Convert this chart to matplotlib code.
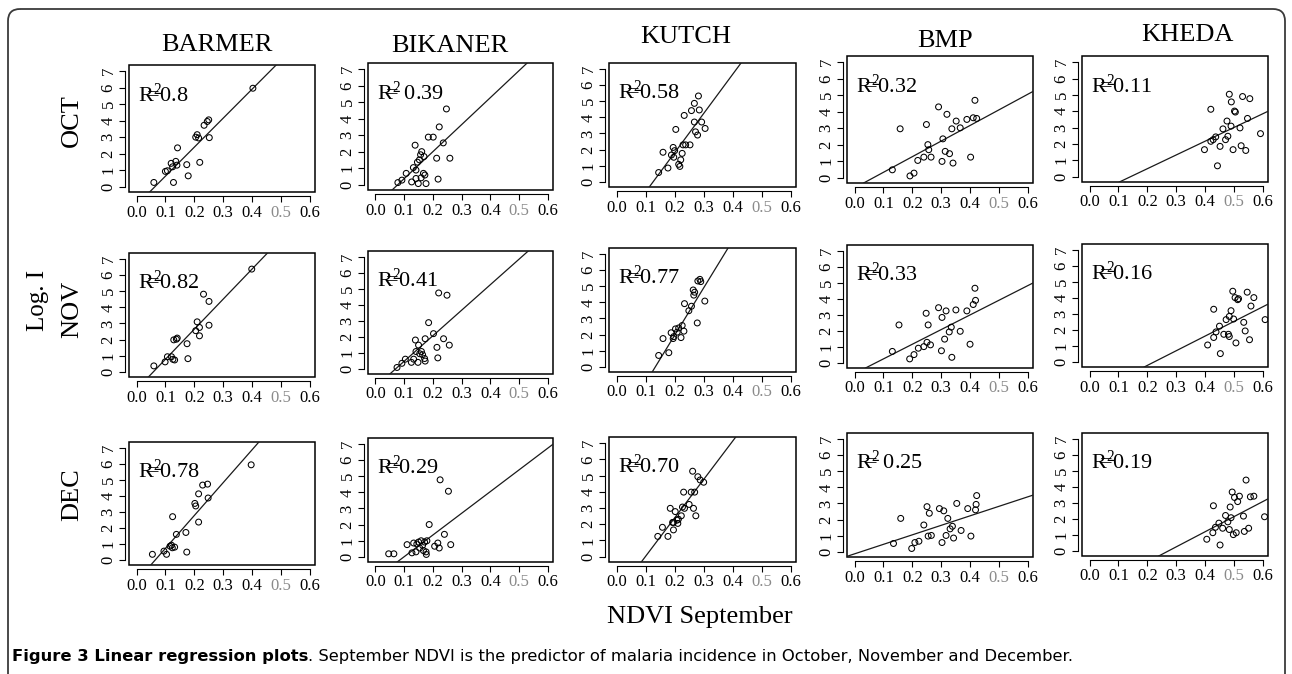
import matplotlib.pyplot as plt
import numpy as np
from matplotlib.patches import FancyBboxPatch, Rectangle

W, H = 1292, 674

districts = ['BARMER', 'BIKANER', 'KUTCH', 'BMP', 'KHEDA']
months = ['OCT', 'NOV', 'DEC']
r2_text = [['0.8', ' 0.39', '0.58', '0.32', '0.11'],
           ['0.82', '0.41', '0.77', '0.33', '0.16'],
           ['0.78', '0.29', '0.70', ' 0.25', '0.19']]

# regression lines (slope, intercept)
fit_slope = [[17.6, 16.4, 24.4, 9.48, 8.41],
             [18.7, 16.0, 29.5, 9.19, 9.19],
             [20.6, 13.5, 23.7, 5.91, 9.47]]
fit_intercept = [[-1.13, -1.28, -3.08, -0.63, -1.20],
                 [-1.10, -1.13, -3.95, -0.68, -2.07],
                 [-1.35, -1.35, -2.35, -0.135, -2.60]]

barmer_oct_x = [0.06, 0.10, 0.107, 0.12, 0.125, 0.128, 0.136, 0.14, 0.142, 0.174, 0.179, 0.205, 0.21, 0.215, 0.219, 0.234, 0.245, 0.25, 0.252, 0.403]
barmer_oct_y = [0.25, 0.92, 0.96, 1.41, 1.2, 0.25, 1.53, 1.3, 2.35, 1.33, 0.65, 3.0, 3.15, 2.95, 1.47, 3.72, 3.95, 4.05, 2.97, 5.97]
bikaner_oct_x = [0.078, 0.092, 0.107, 0.132, 0.126, 0.141, 0.149, 0.138, 0.146, 0.153, 0.157, 0.161, 0.169, 0.159, 0.167, 0.172, 0.176, 0.184, 0.201, 0.213, 0.218, 0.222, 0.236, 0.247, 0.259, 0.141]
bikaner_oct_y = [0.12, 0.27, 0.68, 1.03, 0.16, 0.37, 0.06, 2.39, 1.36, 1.5, 1.81, 2.0, 1.7, 0.41, 0.68, 0.58, 0.06, 2.88, 2.88, 1.6, 0.33, 3.5, 2.53, 4.59, 1.6, 0.88]
kutch_oct_x = [0.145, 0.160, 0.177, 0.189, 0.195, 0.197, 0.200, 0.204, 0.214, 0.218, 0.221, 0.226, 0.229, 0.238, 0.233, 0.253, 0.258, 0.268, 0.268, 0.272, 0.279, 0.282, 0.285, 0.293, 0.305]
kutch_oct_y = [0.57, 1.83, 0.85, 1.66, 2.13, 1.52, 1.93, 3.25, 1.08, 0.95, 1.36, 1.76, 2.29, 2.29, 4.12, 2.29, 4.42, 4.87, 3.71, 3.10, 2.90, 5.33, 4.46, 3.71, 3.31]
bmp_oct_x = [0.131, 0.158, 0.192, 0.206, 0.219, 0.240, 0.249, 0.254, 0.257, 0.265, 0.291, 0.303, 0.306, 0.314, 0.320, 0.329, 0.337, 0.341, 0.352, 0.366, 0.389, 0.402, 0.411, 0.417, 0.423]
bmp_oct_y = [0.47, 2.96, 0.10, 0.27, 1.04, 1.24, 3.22, 2.0, 1.69, 1.24, 4.29, 0.98, 2.35, 1.59, 3.84, 1.45, 2.96, 0.88, 3.43, 3.02, 3.53, 1.24, 3.63, 4.69, 3.59]
kheda_oct_x = [0.398, 0.420, 0.420, 0.428, 0.437, 0.443, 0.452, 0.462, 0.471, 0.476, 0.479, 0.484, 0.490, 0.491, 0.497, 0.502, 0.505, 0.521, 0.525, 0.530, 0.541, 0.547, 0.555, 0.592]
kheda_oct_y = [1.65, 4.12, 2.16, 2.26, 2.43, 0.66, 1.85, 2.92, 2.26, 3.40, 2.47, 5.04, 3.09, 4.57, 1.65, 4.01, 3.95, 2.98, 1.89, 4.90, 1.60, 3.56, 4.77, 2.63]

barmer_nov_x = [0.060, 0.099, 0.107, 0.121, 0.126, 0.132, 0.129, 0.138, 0.141, 0.175, 0.178, 0.205, 0.210, 0.218, 0.218, 0.232, 0.251, 0.251, 0.399]
barmer_nov_y = [0.36, 0.61, 0.93, 0.93, 0.77, 0.73, 1.98, 2.02, 2.09, 1.74, 0.81, 2.55, 3.10, 2.75, 2.23, 4.82, 4.37, 2.89, 6.38]
bikaner_nov_x = [0.075, 0.092, 0.104, 0.125, 0.133, 0.139, 0.141, 0.148, 0.150, 0.154, 0.160, 0.164, 0.171, 0.173, 0.173, 0.185, 0.202, 0.214, 0.217, 0.220, 0.237, 0.249, 0.257]
bikaner_nov_y = [0.08, 0.34, 0.60, 0.40, 0.60, 1.80, 1.08, 0.40, 1.48, 0.94, 1.08, 0.88, 0.64, 0.48, 1.88, 2.89, 2.20, 1.34, 0.68, 4.75, 1.88, 4.61, 1.48]
kutch_nov_x = [0.145, 0.160, 0.180, 0.188, 0.195, 0.197, 0.203, 0.209, 0.214, 0.222, 0.226, 0.232, 0.234, 0.249, 0.258, 0.264, 0.269, 0.266, 0.278, 0.280, 0.287, 0.290, 0.304]
kutch_nov_y = [0.70, 1.75, 0.87, 2.11, 1.75, 1.87, 2.35, 2.15, 2.41, 1.81, 2.56, 2.21, 3.92, 3.48, 3.76, 4.77, 4.63, 4.45, 2.72, 5.33, 5.43, 5.29, 4.08]
bmp_nov_x = [0.131, 0.154, 0.191, 0.206, 0.221, 0.240, 0.248, 0.251, 0.255, 0.263, 0.291, 0.301, 0.303, 0.312, 0.317, 0.328, 0.335, 0.337, 0.351, 0.366, 0.389, 0.400, 0.411, 0.419, 0.417]
bmp_nov_y = [0.71, 2.37, 0.24, 0.51, 0.91, 1.01, 3.10, 1.28, 2.37, 1.12, 3.45, 0.75, 2.84, 1.48, 3.25, 1.93, 2.23, 0.34, 3.31, 1.97, 3.25, 1.16, 3.65, 3.91, 4.67]
kheda_nov_x = [0.409, 0.430, 0.430, 0.438, 0.450, 0.453, 0.465, 0.473, 0.481, 0.484, 0.484, 0.490, 0.496, 0.499, 0.504, 0.507, 0.513, 0.516, 0.534, 0.539, 0.546, 0.554, 0.559, 0.569, 0.608]
kheda_nov_y = [1.05, 3.29, 1.52, 1.87, 2.23, 0.51, 1.72, 2.64, 1.72, 1.58, 2.84, 3.20, 4.42, 2.68, 4.02, 1.18, 3.89, 3.95, 2.47, 1.93, 4.36, 1.38, 3.49, 4.02, 2.64]

barmer_dec_x = [0.055, 0.095, 0.104, 0.116, 0.121, 0.124, 0.132, 0.125, 0.138, 0.171, 0.174, 0.202, 0.205, 0.215, 0.215, 0.229, 0.246, 0.248, 0.397]
barmer_dec_y = [0.34, 0.54, 0.34, 0.85, 0.91, 0.75, 0.79, 2.70, 1.59, 1.71, 0.48, 3.53, 3.37, 4.13, 2.36, 4.68, 4.74, 3.87, 5.95]
bikaner_dec_x = [0.046, 0.064, 0.110, 0.127, 0.133, 0.141, 0.144, 0.150, 0.154, 0.159, 0.164, 0.167, 0.171, 0.177, 0.176, 0.179, 0.187, 0.206, 0.217, 0.222, 0.225, 0.240, 0.254, 0.262]
bikaner_dec_y = [0.18, 0.18, 0.75, 0.24, 0.85, 0.30, 0.79, 0.91, 0.54, 0.99, 0.71, 0.38, 0.91, 0.14, 0.30, 0.99, 2.0, 0.65, 0.85, 0.54, 4.78, 1.39, 4.07, 0.75]
kutch_dec_x = [0.142, 0.158, 0.177, 0.185, 0.193, 0.196, 0.196, 0.202, 0.208, 0.213, 0.211, 0.223, 0.227, 0.231, 0.234, 0.250, 0.257, 0.262, 0.265, 0.269, 0.273, 0.280, 0.288, 0.300]
kutch_dec_y = [1.25, 1.81, 1.25, 2.98, 2.11, 2.11, 1.65, 2.78, 2.25, 2.31, 2.05, 2.52, 3.06, 3.98, 2.98, 3.22, 3.98, 5.27, 2.98, 3.98, 2.52, 4.93, 4.73, 4.59]
bmp_dec_x = [0.135, 0.160, 0.198, 0.209, 0.223, 0.240, 0.251, 0.255, 0.259, 0.266, 0.294, 0.303, 0.309, 0.317, 0.323, 0.331, 0.339, 0.343, 0.354, 0.369, 0.392, 0.403, 0.419, 0.421, 0.423]
bmp_dec_y = [0.51, 2.07, 0.20, 0.57, 0.65, 1.66, 2.80, 0.97, 2.39, 1.01, 2.68, 0.57, 2.54, 1.01, 2.07, 1.42, 1.58, 0.85, 3.00, 1.32, 2.68, 0.97, 2.60, 2.94, 3.49]
kheda_dec_x = [0.406, 0.427, 0.429, 0.436, 0.448, 0.452, 0.461, 0.471, 0.479, 0.484, 0.487, 0.490, 0.494, 0.498, 0.502, 0.508, 0.513, 0.519, 0.533, 0.536, 0.542, 0.551, 0.557, 0.569, 0.606]
kheda_dec_y = [0.72, 1.13, 2.82, 1.47, 1.73, 0.36, 1.41, 2.21, 1.81, 1.33, 2.74, 2.07, 3.68, 1.01, 3.34, 1.13, 3.08, 3.42, 2.17, 1.21, 4.43, 1.41, 3.38, 3.42, 2.13]

panel_data = [
    [(barmer_oct_x, barmer_oct_y), (bikaner_oct_x, bikaner_oct_y), (kutch_oct_x, kutch_oct_y),
     (bmp_oct_x, bmp_oct_y), (kheda_oct_x, kheda_oct_y)],
    [(barmer_nov_x, barmer_nov_y), (bikaner_nov_x, bikaner_nov_y), (kutch_nov_x, kutch_nov_y),
     (bmp_nov_x, bmp_nov_y), (kheda_nov_x, kheda_nov_y)],
    [(barmer_dec_x, barmer_dec_y), (bikaner_dec_x, bikaner_dec_y), (kutch_dec_x, kutch_dec_y),
     (bmp_dec_x, bmp_dec_y), (kheda_dec_x, kheda_dec_y)],
]

# panel boxes in pixels
col_left = [129, 368, 609, 847, 1082]
col_right = [315, 553, 796, 1033, 1268]
box_top = [[65, 63, 63, 56, 56], [253, 251, 248, 245, 244], [442, 438, 437, 433, 433]]
box_bottom = [[192, 190, 187, 183, 182], [377, 374, 372, 368, 367], [565, 562, 562, 557, 556]]
title_pos = [(217, 45), (450, 46), (686, 37), (945, 41), (1187, 35)]
month_pos = [(72, 121), (72, 309), (72, 495)]

plt.rcParams['font.family'] = ['Liberation Serif', 'DejaVu Serif']
plt.rcParams['mathtext.fontset'] = 'custom'
plt.rcParams['mathtext.rm'] = 'Liberation Serif'
plt.rcParams['mathtext.it'] = 'Liberation Serif'

fig = plt.figure(figsize=(W / 100, H / 100), dpi=100)

# overlay in pixel coordinates for frame and labels
ov = fig.add_axes([0, 0, 1, 1])
ov.set_xlim(0, W)
ov.set_ylim(H, 0)
ov.axis('off')
ov.add_patch(FancyBboxPatch((8, 9), 1277, 720, boxstyle='round,pad=0,rounding_size=12',
                            fill=False, lw=1.3, ec='#3a3a3a'))

for j, name in enumerate(districts):
    ov.text(title_pos[j][0], title_pos[j][1], name, ha='center', va='center', fontsize=19)
for i, m in enumerate(months):
    ov.text(month_pos[i][0], month_pos[i][1], m, rotation=90, ha='center', va='center', fontsize=19)
ov.text(38, 300, 'Log. I', rotation=90, ha='center', va='center', fontsize=18)
ov.text(700, 617, 'NDVI September', ha='center', va='center', fontsize=19)

xticks = [0.0, 0.1, 0.2, 0.3, 0.4, 0.5, 0.6]
for i in range(3):
    for j in range(5):
        l, r = col_left[j], col_right[j]
        t, b = box_top[i][j], box_bottom[i][j]
        ax = fig.add_axes([l / W, 1 - b / H, (r - l) / W, (b - t) / H])
        ax.set_xlim(-0.026, 0.618)
        ax.set_ylim(-0.33, 7.38)
        x, y = panel_data[i][j]
        ax.scatter(x, y, s=18, facecolors='none', edgecolors='black', linewidths=0.75, zorder=3)
        ax.axline((0, fit_intercept[i][j]), slope=fit_slope[i][j], color='#1a1a1a', lw=0.9)
        ax.add_patch(Rectangle((0, 0), 1, 1, transform=ax.transAxes, fill=False,
                               lw=1.1, ec='black', clip_on=False))
        ax.spines['top'].set_visible(False)
        ax.spines['right'].set_visible(False)
        ax.spines['bottom'].set_position(('outward', 3))
        ax.spines['left'].set_position(('outward', 3))
        ax.spines['bottom'].set_bounds(0, 0.6)
        ax.spines['left'].set_bounds(0, 7)
        ax.set_xticks(xticks)
        ax.set_xticklabels(['%.1f' % v for v in xticks])
        ax.get_xticklabels()[5].set_color('#8a8a8a')
        ax.set_yticks(range(8))
        ax.set_yticklabels([str(k) for k in range(8)], rotation=90, va='center')
        ax.tick_params(axis='x', length=4, width=0.8, labelsize=12, pad=2)
        ax.tick_params(axis='y', length=4, width=0.8, labelsize=12, pad=2)
        ax.text(0.05, 0.71, r'R$^{\mathregular{2}}\!\!\!\!\!$=' + r2_text[i][j], transform=ax.transAxes,
                fontsize=16, va='baseline')

# caption with bold lead-in, sized to span the reference width
cap_font = ['DejaVu Sans']
cap_size = 10.5
lead = ov.text(12, 657, 'Figure 3 Linear regression plots', fontweight='bold',
               va='center', fontsize=cap_size, family=cap_font)
rest = ov.text(0, 657, '. September NDVI is the predictor of malaria incidence in October, November and December.',
               va='center', fontsize=cap_size, family=cap_font)
renderer = fig.canvas.get_renderer()
total = lead.get_window_extent(renderer).width + rest.get_window_extent(renderer).width
cap_size = cap_size * 1064 / total
lead.set_fontsize(cap_size)
rest.set_fontsize(cap_size)
rest.set_x(lead.get_window_extent(renderer).x1)

fig.savefig('out.png', dpi=100)
